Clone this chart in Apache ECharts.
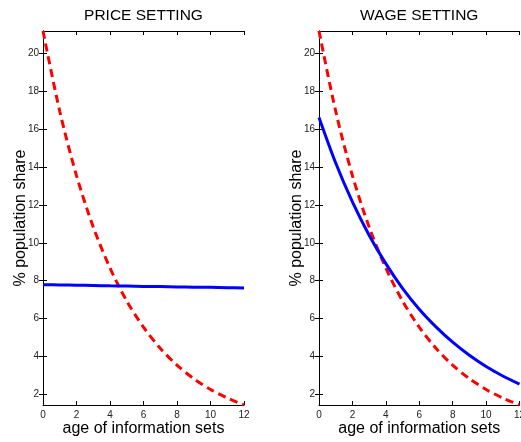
<!DOCTYPE html>
<html>
<head>
<meta charset="utf-8">
<script src="https://cdn.jsdelivr.net/npm/echarts@6/dist/echarts.min.js"></script>
<style>html,body{margin:0;padding:0;background:#fff}#c{width:521px;height:442px}</style>
</head>
<body>
<div id="c"></div>
<script>
const ages = [0, 1, 2, 3, 4, 5, 6, 7, 8, 9, 10, 11, 12];
const priceBlue = [7.79, 7.78, 7.76, 7.75, 7.73, 7.72, 7.70, 7.69, 7.67, 7.66, 7.65, 7.63, 7.62];
const priceRed = [21.16, 16.93, 13.54, 10.83, 8.67, 6.93, 5.55, 4.44, 3.55, 2.84, 2.27, 1.82, 1.45];
const wageBlue = [16.6, 14.2, 12.15, 10.4, 8.9, 7.6, 6.5, 5.57, 4.76, 4.07, 3.48, 2.98, 2.55];
const wageRed = [21.16, 16.93, 13.54, 10.83, 8.67, 6.93, 5.55, 4.44, 3.55, 2.84, 2.27, 1.82, 1.45];
const xTicks = [0, 2, 4, 6, 8, 10, 12];
const yTicks = [2, 4, 6, 8, 10, 12, 14, 16, 18, 20];
const titles = ['PRICE SETTING', 'WAGE SETTING'];
const xName = 'age of information sets';
const yName = '% population share';

const pair = (xs, ys) => xs.map((x, i) => [x, ys[i]]);
const FONT = 'Liberation Sans, Arial, Helvetica, sans-serif';
const grids = [
  {left: 43, top: 31, width: 201, height: 374, outerBoundsMode: 'none', containLabel: false},
  {left: 319, top: 31, width: 200.5, height: 374, outerBoundsMode: 'none', containLabel: false}
];

function xAx(gi, pos) {
  const main = pos === 'bottom';
  return {
    type: 'value', gridIndex: gi, position: pos, min: 0, max: 12,
    name: main ? xName : '', nameLocation: 'middle', nameGap: 16, nameMoveOverlap: false,
    nameTextStyle: {fontFamily: FONT, fontSize: 16, color: '#000'},
    axisLine: {show: true, lineStyle: {color: '#000', width: 1}},
    axisTick: {show: true, inside: true, length: 4, customValues: xTicks, lineStyle: {color: '#000'}},
    axisLabel: {show: main, customValues: xTicks, margin: 5, fontFamily: FONT, fontSize: 10, color: '#222'},
    splitLine: {show: false}
  };
}
function yAx(gi, pos) {
  const main = pos === 'left';
  return {
    type: 'value', gridIndex: gi, position: pos, min: 1.45, max: 21.16,
    name: main ? yName : '', nameLocation: 'middle', nameGap: 14, nameMoveOverlap: false,
    nameTextStyle: {fontFamily: FONT, fontSize: 16, color: '#000'},
    axisLine: {show: true, lineStyle: {color: '#000', width: 1}},
    axisTick: {show: true, inside: true, length: 4, customValues: yTicks, lineStyle: {color: '#000'}},
    axisLabel: {show: main, customValues: yTicks, margin: 4, fontFamily: FONT, fontSize: 10, color: '#222'},
    splitLine: {show: false}
  };
}

const chart = echarts.init(document.getElementById('c'), null, {renderer: 'canvas'});
const blue = {color: '#0000ff', width: 3, type: 'solid'};
const red = {color: '#ff0000', width: 3, type: [8, 5]};
function line(idx, data, style, z) {
  return {type: 'line', xAxisIndex: idx * 2, yAxisIndex: idx * 2, data: data, showSymbol: false,
    symbol: 'none', smooth: 0.3, lineStyle: style, itemStyle: {color: style.color},
    animation: false, z: z, clip: true};
}
chart.setOption({
  backgroundColor: '#fff',
  animation: false,
  graphic: titles.map((t, i) => ({
    type: 'text', x: grids[i].left + grids[i].width / 2, y: 16,
    style: {text: t, font: '15.5px ' + FONT, fill: '#000', textAlign: 'center', textVerticalAlign: 'middle'}
  })),
  grid: grids,
  xAxis: [xAx(0, 'bottom'), xAx(0, 'top'), xAx(1, 'bottom'), xAx(1, 'top')],
  yAxis: [yAx(0, 'left'), yAx(0, 'right'), yAx(1, 'left'), yAx(1, 'right')],
  series: [
    line(0, pair(ages, priceRed), red, 3),
    line(0, pair(ages, priceBlue), blue, 4),
    line(1, pair(ages, wageRed), red, 3),
    line(1, pair(ages, wageBlue), blue, 4)
  ]
});
</script>
</body>
</html>
